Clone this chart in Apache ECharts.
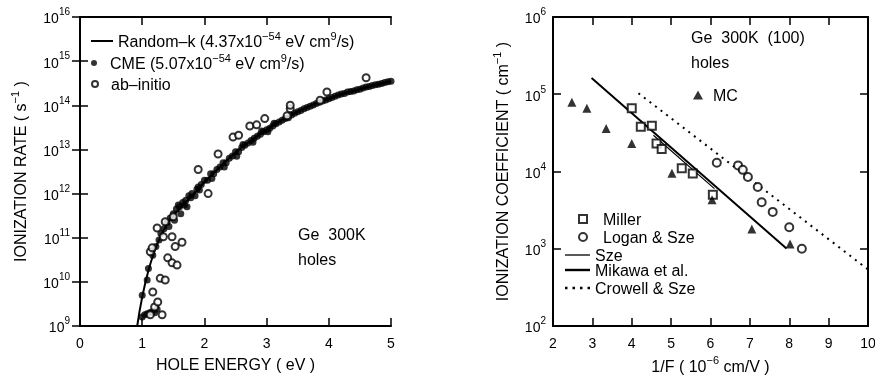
<!DOCTYPE html>
<html>
<head>
<meta charset="utf-8">
<title>Ge holes - ionization</title>
<script src="https://cdn.jsdelivr.net/npm/echarts@6/dist/echarts.min.js"></script>
<style>
  html, body { margin: 0; padding: 0; background: #fff; }
  #chart { width: 875px; height: 375px; }
</style>
</head>
<body>
<div id="chart"></div>
<script>
// ---- left panel: ionization rate vs hole energy ----
const randomKEnergy = [0.92, 1.0, 1.1, 1.2, 1.3, 1.4, 1.5, 1.6, 1.7, 1.8, 2.0, 2.25, 2.5, 2.75, 3.0, 3.25, 3.5, 3.75, 4.0, 4.25, 4.5, 4.75, 5.0]
const randomKRate = [1e9, 4.5e9, 1.8e10, 5e10, 1.1e11, 2e11, 3.2e11, 4.5e11, 6.3e11, 8.9e11, 1.8e12, 4e12, 8.5e12, 1.6e13, 2.8e13, 4.7e13, 7.2e13, 1.05e14, 1.4e14, 1.85e14, 2.3e14, 2.9e14, 3.5e14]

const cmeEnergy = [1.0, 1.04, 1.08, 1.12, 1.16, 1.2, 1.24,
  1.0, 1.08, 1.1, 1.17, 1.22, 1.27, 1.3, 1.35, 1.4, 1.43, 1.45, 1.5, 1.52, 1.55, 1.58, 1.6, 1.62, 1.65, 1.68, 1.7, 1.72, 1.75,
  1.78, 1.8, 1.85, 1.88, 1.9, 1.92, 1.95, 2.0, 2.05, 2.1, 2.12, 2.15, 2.2, 2.25, 2.3, 2.32, 2.35, 2.4, 2.45, 2.5, 2.52, 2.55, 2.6, 2.62, 2.65, 2.7,
  2.75, 2.78, 2.8, 2.85, 2.9, 2.92, 2.95, 3.0, 3.02, 3.05, 3.1, 3.12, 3.15, 3.2, 3.25, 3.3, 3.35, 3.4, 3.45, 3.5, 3.55, 3.6, 3.65, 3.7, 3.75, 3.8, 3.85, 3.9, 3.95,
  4.0, 4.05, 4.1, 4.15, 4.2, 4.25, 4.3, 4.35, 4.4, 4.45, 4.5, 4.55, 4.6, 4.65, 4.7, 4.75, 4.8, 4.85, 4.9, 4.95, 5.0]
const cmeRate = [1.6e9, 1.8e9, 1.9e9, 2.0e9, 2.1e9, 2.0e9, 2.4e9,
  5.0e9, 1.1e10, 2.0e10, 4.0e10, 6.3e10, 8.9e10, 1.25e11, 1.6e11, 2.2e11, 1.8e11, 2.8e11, 3.5e11, 2.5e11, 4.5e11, 5.5e11, 5.0e11, 3.5e11, 6.3e11, 5.5e11, 7.1e11, 5.0e11, 8.9e11,
  8.0e11, 1.0e12, 8.9e11, 1.25e12, 1.4e12, 1.2e12, 1.6e12, 2.0e12, 2.0e12, 2.8e12, 2.2e12, 2.8e12, 3.5e12, 4.0e12, 5.0e12, 4.0e12, 5.0e12, 6.3e12, 7.1e12, 8.9e12, 7.0e12, 8.9e12, 1.1e13, 1.3e13, 1.25e13, 1.4e13,
  1.6e13, 1.45e13, 1.8e13, 2.0e13, 2.2e13, 2.6e13, 2.5e13, 2.8e13, 2.5e13, 3.0e13, 3.4e13, 3.9e13, 3.8e13, 4.2e13, 4.6e13, 5.0e13, 5.2e13, 6.0e13, 6.6e13, 7.1e13, 7.6e13, 8.3e13, 8.9e13, 9.5e13, 1.02e14, 1.1e14, 1.17e14, 1.25e14, 1.32e14,
  1.4e14, 1.5e14, 1.6e14, 1.7e14, 1.8e14, 1.85e14, 2.0e14, 2.05e14, 2.1e14, 2.25e14, 2.3e14, 2.45e14, 2.6e14, 2.65e14, 2.8e14, 2.9e14, 3.0e14, 3.1e14, 3.3e14, 3.4e14, 3.5e14]

const abEnergy = [1.13, 1.32, 1.2, 1.25, 1.17, 1.29, 1.37, 1.41, 1.48, 1.56, 1.13, 1.16, 1.53, 1.64, 1.48, 1.34, 1.24, 1.37, 1.5, 1.9,
  2.06, 2.22, 2.46, 2.55, 2.73, 2.84, 2.97, 3.33, 3.38, 3.38, 3.86, 3.97, 4.6]
const abRate = [1.8e9, 1.8e9, 2.7e9, 3.5e9, 5.9e9, 1.2e10, 1.1e10, 3.5e10, 2.7e10, 2.4e10, 4.8e10, 5.9e10, 6.3e10, 7.9e10, 1.05e11, 1.05e11, 1.66e11, 2.3e11, 3.0e11, 3.5e12,
  1.0e12, 7.9e12, 1.9e13, 2.1e13, 3.4e13, 3.6e13, 5.0e13, 5.8e13, 8.3e13, 1.0e14, 1.3e14, 2.0e14, 4.2e14]

// ---- right panel: ionization coefficient vs 1/F ----
const millerX = [4.0, 4.23, 4.51, 4.63, 4.76, 5.27, 5.55, 6.06]
const millerY = [6.6e4, 3.8e4, 3.9e4, 2.3e4, 1.96e4, 1.1e4, 9.4e3, 5e3]
const loganX = [6.16, 6.7, 6.82, 6.95, 7.2, 7.3, 7.58, 8.0, 8.32]
const loganY = [1.3e4, 1.2e4, 1.05e4, 8.5e3, 6.3e3, 4e3, 3e3, 1.9e3, 1e3]
const mcX = [2.48, 2.86, 3.35, 4.0, 5.02, 6.04, 7.05, 8.02]
const mcY = [7.9e4, 6.6e4, 3.6e4, 2.3e4, 9.5e3, 4.3e3, 1.8e3, 1.15e3]
const szeX = [4.55, 6.1]
const szeY = [2.95e4, 6.0e3]
const mikawaX = [2.98, 7.93]
const mikawaY = [1.62e5, 1.01e3]
const crowellX = [4.17, 10]
const crowellY = [1.03e5, 5.4e2]

const FONT = '"Liberation Sans", Arial, Helvetica, sans-serif'

function zip(xs, ys) {
  return xs.map((x, i) => [x, ys[i]])
}

// rich text styles (superscripts)
const rich16 = {
  t: { fontSize: 16, lineHeight: 20, verticalAlign: 'bottom', fontFamily: FONT, color: '#000' },
  sup: { fontSize: 11, lineHeight: 12, verticalAlign: 'top', fontFamily: FONT, color: '#000' }
}
const rich14 = {
  t: { fontSize: 14, lineHeight: 19, verticalAlign: 'bottom', fontFamily: FONT, color: '#000' },
  sup: { fontSize: 10, lineHeight: 10, verticalAlign: 'top', fontFamily: FONT, color: '#000' }
}

function pow10(v) {
  return '{t|10}{sup|' + Math.round(Math.log10(v)) + '}'
}

const legendText = {
  'Random-k': '{t|Random–k (4.37x10}{sup|−54}{t| eV cm}{sup|9}{t|/s)}',
  'CME': '{t|CME (5.07x10}{sup|−54}{t| eV cm}{sup|9}{t|/s)}',
  'ab-initio': '{t|ab–initio}',
  'Miller': '{t|Miller}',
  'Logan & Sze': '{t|Logan & Sze}',
  'Sze': '{t|Sze}',
  'Mikawa et al.': '{t|Mikawa et al.}',
  'Crowell & Sze': '{t|Crowell & Sze}',
  'MC': '{t|MC}'
}

// legend icons for the line entries
const thinLine = 'path://M0,0H25V1.3H0Z'
const thickLine = 'path://M0,0H25V2.4H0Z'
const randomKLine = 'path://M0,0H22V2H0Z'
const dotLine = 'path://M0,0h2.5v2.5h-2.5z M7.5,0h2.5v2.5h-2.5z M15,0h2.5v2.5h-2.5z M22.5,0h2.5v2.5h-2.5z'

const axisLine = { lineStyle: { color: '#000', width: 2 } }
const axisTick = { inside: true, length: 8, lineStyle: { color: '#000', width: 1.5 } }
const noSplit = { show: false }

function xBottom(grid, min, max, name) {
  return {
    gridIndex: grid, type: 'value', position: 'bottom', min: min, max: max, interval: 1,
    axisLine: axisLine, axisTick: axisTick, splitLine: noSplit,
    axisLabel: { color: '#000', fontSize: 14, fontFamily: FONT, margin: 11 },
    name: name, nameLocation: 'middle', nameGap: 28,
    nameTextStyle: { rich: rich16 }
  }
}
function xTop(grid, min, max) {
  return {
    gridIndex: grid, type: 'value', position: 'top', min: min, max: max, interval: 1,
    axisLine: axisLine, axisTick: axisTick, splitLine: noSplit, axisLabel: { show: false }
  }
}
function yLeft(grid, min, max, name, gap, margin) {
  return {
    gridIndex: grid, type: 'log', logBase: 10, position: 'left', min: min, max: max,
    axisLine: axisLine, axisTick: axisTick, splitLine: noSplit,
    axisLabel: { formatter: pow10, rich: rich14, margin: margin },
    name: name, nameLocation: 'middle', nameGap: gap,
    nameTextStyle: { rich: rich16 }
  }
}
function yRight(grid, min, max) {
  return {
    gridIndex: grid, type: 'log', logBase: 10, position: 'right', min: min, max: max,
    axisLine: axisLine, axisTick: axisTick, splitLine: noSplit, axisLabel: { show: false }
  }
}

// one legend component per entry so each row sits where it should
function legendItem(name, icon, left, top, w, h, padLeft) {
  return {
    data: [icon ? { name: name, icon: icon } : name],
    left: left, top: top, padding: 0,
    itemWidth: w, itemHeight: h, selectedMode: false,
    formatter: n => legendText[n],
    textStyle: { rich: rich16, padding: [0, 0, 0, padLeft || 0] }
  }
}

let myChart = echarts.init(document.getElementById('chart'))
myChart.setOption({
  animation: false,
  backgroundColor: '#fff',
  textStyle: { fontFamily: FONT, color: '#000' },
  grid: [
    { left: 80, top: 17, width: 311, height: 309, outerBoundsMode: 'none' },
    { left: 553, top: 17, width: 315, height: 309, outerBoundsMode: 'none' }
  ],
  xAxis: [
    xBottom(0, 0, 5, '{t|HOLE ENERGY ( eV )}'),
    xTop(0, 0, 5),
    xBottom(1, 2, 10, '{t|1/F ( 10}{sup|−6}{t| cm/V )}'),
    xTop(1, 2, 10)
  ],
  yAxis: [
    yLeft(0, 1e9, 1e16, '{t|IONIZATION RATE ( s}{sup|−1}{t| )}', 50, 10),
    yRight(0, 1e9, 1e16),
    yLeft(1, 1e2, 1e6, '{t|IONIZATION COEFFICIENT ( cm}{sup|−1}{t| )}', 41, 7),
    yRight(1, 1e2, 1e6)
  ],
  legend: [
    legendItem('Random-k', randomKLine, 91, 31, 22, 6, 0),
    legendItem('CME', null, 91, 53, 22, 6, 0),
    legendItem('ab-initio', null, 91, 78, 22, 6, 0),
    legendItem('Miller', null, 578, 213, 8, 8, 11),
    legendItem('Logan & Sze', null, 578, 231, 8, 8, 11),
    legendItem('Sze', thinLine, 565, 249, 25, 8, 0),
    legendItem('Mikawa et al.', thickLine, 565, 264, 25, 8, 0),
    legendItem('Crowell & Sze', dotLine, 565, 282, 25, 8, 0),
    legendItem('MC', null, 693, 89, 10, 9, 5)
  ],
  graphic: [
    { type: 'text', left: 298, top: 228, style: { text: 'Ge  300K', font: '16px ' + FONT, fill: '#000' } },
    { type: 'text', left: 298, top: 253, style: { text: 'holes', font: '16px ' + FONT, fill: '#000' } },
    { type: 'text', left: 691, top: 31, style: { text: 'Ge  300K  (100)', font: '16px ' + FONT, fill: '#000' } },
    { type: 'text', left: 691, top: 56, style: { text: 'holes', font: '16px ' + FONT, fill: '#000' } }
  ],
  series: [
    {
      name: 'Random-k', type: 'line', xAxisIndex: 0, yAxisIndex: 0,
      data: zip(randomKEnergy, randomKRate), symbol: 'none', smooth: true,
      lineStyle: { color: '#000', width: 2 }, itemStyle: { color: '#000' }, z: 3
    },
    {
      name: 'CME', type: 'scatter', xAxisIndex: 0, yAxisIndex: 0,
      data: zip(cmeEnergy, cmeRate), symbol: 'circle', symbolSize: 7,
      itemStyle: { color: '#000' }, z: 2
    },
    {
      name: 'ab-initio', type: 'scatter', xAxisIndex: 0, yAxisIndex: 0,
      data: zip(abEnergy, abRate), symbol: 'emptyCircle', symbolSize: 7,
      itemStyle: { color: '#000', borderWidth: 1.5 }, z: 4
    },
    {
      name: 'Miller', type: 'scatter', xAxisIndex: 2, yAxisIndex: 2,
      data: zip(millerX, millerY), symbol: 'emptyRect', symbolSize: 8,
      itemStyle: { color: '#000', borderWidth: 1.5 }, z: 4
    },
    {
      name: 'Logan & Sze', type: 'scatter', xAxisIndex: 2, yAxisIndex: 2,
      data: zip(loganX, loganY), symbol: 'emptyCircle', symbolSize: 8,
      itemStyle: { color: '#000', borderWidth: 1.5 }, z: 4
    },
    {
      name: 'Sze', type: 'line', xAxisIndex: 2, yAxisIndex: 2,
      data: zip(szeX, szeY), symbol: 'none',
      lineStyle: { color: '#000', width: 1.2 }, itemStyle: { color: '#000' }
    },
    {
      name: 'Mikawa et al.', type: 'line', xAxisIndex: 2, yAxisIndex: 2,
      data: zip(mikawaX, mikawaY), symbol: 'none',
      lineStyle: { color: '#000', width: 2 }, itemStyle: { color: '#000' }
    },
    {
      name: 'Crowell & Sze', type: 'line', xAxisIndex: 2, yAxisIndex: 2,
      data: zip(crowellX, crowellY), symbol: 'none',
      lineStyle: { color: '#000', width: 2, type: [2, 5] }, itemStyle: { color: '#000' }
    },
    {
      name: 'MC', type: 'scatter', xAxisIndex: 2, yAxisIndex: 2,
      data: zip(mcX, mcY), symbol: 'triangle', symbolSize: 9,
      itemStyle: { color: '#000' }, z: 4
    }
  ]
})
</script>
</body>
</html>
